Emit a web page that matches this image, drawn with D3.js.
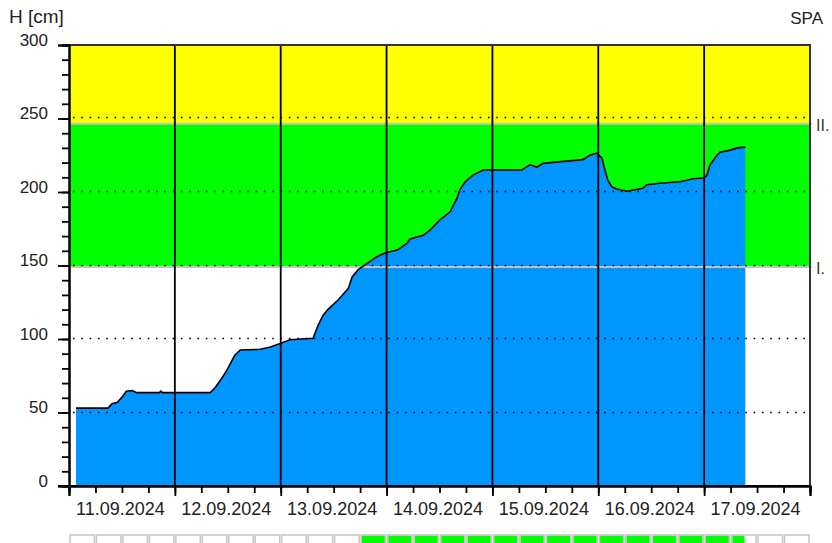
<!DOCTYPE html>
<html>
<head>
<meta charset="utf-8">
<script src="https://cdn.jsdelivr.net/npm/d3@7"></script>
<style>
  html, body { margin: 0; padding: 0; background: #fff; }
  svg { display: block; font-family: "Liberation Sans", Arial, sans-serif; }
</style>
</head>
<body>
<svg id="chart" width="832" height="543"></svg>
<script>
// Water level H [cm], station SPA
const times = [
  "2024-09-11T01:35", "2024-09-11T08:50", "2024-09-11T09:45", "2024-09-11T11:00",
  "2024-09-11T12:10", "2024-09-11T13:00", "2024-09-11T14:20", "2024-09-11T15:20",
  "2024-09-11T20:30", "2024-09-11T20:50", "2024-09-11T21:10", "2024-09-12T08:00",
  "2024-09-12T09:10", "2024-09-12T10:40", "2024-09-12T11:50", "2024-09-12T13:35",
  "2024-09-12T14:50", "2024-09-12T19:20", "2024-09-12T21:40", "2024-09-13T00:20",
  "2024-09-13T02:05", "2024-09-13T07:20", "2024-09-13T08:30", "2024-09-13T09:35",
  "2024-09-13T10:40", "2024-09-13T13:00", "2024-09-13T15:20", "2024-09-13T16:10",
  "2024-09-13T17:30", "2024-09-13T19:35", "2024-09-13T21:50", "2024-09-13T23:35",
  "2024-09-14T02:25", "2024-09-14T04:35", "2024-09-14T05:20", "2024-09-14T08:20",
  "2024-09-14T09:50", "2024-09-14T12:05", "2024-09-14T14:25", "2024-09-14T16:00",
  "2024-09-14T16:35", "2024-09-14T17:50", "2024-09-14T19:35", "2024-09-14T21:55",
  "2024-09-15T06:40", "2024-09-15T08:30", "2024-09-15T10:05", "2024-09-15T11:30",
  "2024-09-15T14:55", "2024-09-15T20:30", "2024-09-15T22:05", "2024-09-15T23:40",
  "2024-09-16T00:50", "2024-09-16T01:30", "2024-09-16T02:10", "2024-09-16T03:05",
  "2024-09-16T04:10", "2024-09-16T06:30", "2024-09-16T10:05", "2024-09-16T11:00",
  "2024-09-16T14:00", "2024-09-16T18:30", "2024-09-16T21:30", "2024-09-16T23:40",
  "2024-09-17T00:35", "2024-09-17T01:20", "2024-09-17T02:55", "2024-09-17T03:35",
  "2024-09-17T05:55", "2024-09-17T07:30", "2024-09-17T09:20"
];
const levels = [
  53, 53, 56, 57,
  61, 64.5, 65, 63.5,
  63.5, 64.5, 63.5, 63.5,
  67, 73.5, 79, 89,
  92.5, 93, 94.5, 97.5,
  99.5, 100.5, 109.5, 116,
  120, 126.5, 134.5, 142,
  147, 151.5, 156, 158.5,
  160.5, 165, 168, 170.5,
  174, 181, 186.5, 196,
  201.5, 207, 211.5, 215,
  215, 218.5, 217, 219.5,
  220.5, 222, 225, 226.5,
  223, 215, 208, 203.5,
  202, 200.5, 202.5, 205,
  206, 207, 209, 209.5,
  211, 218.5, 225, 227,
  228.5, 230, 230.5
];

// Axis ticks and labels
const dayStarts = ["2024-09-11", "2024-09-12", "2024-09-13", "2024-09-14",
                   "2024-09-15", "2024-09-16", "2024-09-17", "2024-09-18"];
const dayLabels = ["11.09.2024", "12.09.2024", "13.09.2024", "14.09.2024",
                   "15.09.2024", "16.09.2024", "17.09.2024"];
const yMajorTicks = [0, 50, 100, 150, 200, 250, 300];
const gridLevels = [50, 100, 150, 200, 250];

// Flood warning levels
const thresholdValues = [149, 246.5];
const thresholdLabels = ["I.", "II."];
const bandColors = ["#00ff00", "#ffff00"];

// Status strip: periods marked green
const flagStart = ["2024-09-13T18:00"];
const flagEnd = ["2024-09-17T09:20"];

const parseT = d3.timeParse("%Y-%m-%dT%H:%M");
const parseD = d3.timeParse("%Y-%m-%d");
const data = times.map((t, i) => ({ t: parseT(t), v: levels[i] }));
const days = dayStarts.map(parseD);

const svg = d3.select("#chart");
const L = 69, R = 810, T = 45, B = 486;

const x = d3.scaleTime().domain([days[0], days[days.length - 1]]).range([L, R]);
const y = d3.scaleLinear().domain([0, 300]).range([B, T]);

// Coloured bands between warning levels
const bandBounds = [thresholdValues[0], thresholdValues[1], 300];
bandColors.forEach((c, i) => {
  svg.append("rect")
    .attr("x", L).attr("width", R - L)
    .attr("y", y(bandBounds[i + 1]))
    .attr("height", y(bandBounds[i]) - y(bandBounds[i + 1]))
    .attr("fill", c);
});

// Water level area and outline
const area = d3.area().x(d => x(d.t)).y0(y(0)).y1(d => y(d.v));
const line = d3.line().x(d => x(d.t)).y(d => y(d.v));
svg.append("path").datum(data).attr("d", area).attr("fill", "#0096ff");

// Warning level lines
thresholdValues.forEach((v, i) => {
  svg.append("line")
    .attr("x1", L).attr("x2", R + 2)
    .attr("y1", y(v)).attr("y2", y(v))
    .attr("stroke", "#c4c4c4").attr("stroke-width", 2);
  svg.append("text")
    .attr("x", 816).attr("y", y(v) + 7)
    .attr("font-size", 16).attr("fill", "#333")
    .text(thresholdLabels[i]);
});

svg.append("path").datum(data).attr("d", line)
  .attr("fill", "none").attr("stroke", "#000").attr("stroke-width", 1.6);

// Dotted horizontal grid
gridLevels.forEach(v => {
  svg.append("line")
    .attr("x1", L + 4).attr("x2", R)
    .attr("y1", Math.round(y(v)) - 0.5).attr("y2", Math.round(y(v)) - 0.5)
    .attr("stroke", "#000").attr("stroke-width", 1.6)
    .attr("stroke-dasharray", "1.6,6.7");
});

// Day separators
days.slice(1, -1).forEach(d => {
  svg.append("line")
    .attr("x1", x(d)).attr("x2", x(d))
    .attr("y1", T).attr("y2", B)
    .attr("stroke", "#000").attr("stroke-width", 1.8);
});

// Frame
svg.append("path")
  .attr("d", `M${L},${T}H${R}V${B}`)
  .attr("fill", "none").attr("stroke", "#333").attr("stroke-width", 2);

// Y axis: minor ticks every 10, major ticks with labels every 50
const yMinor = svg.append("g").attr("transform", `translate(${L},0)`)
  .call(d3.axisLeft(y).tickValues(d3.range(0, 301, 10)).tickSize(7).tickFormat(""));
const yMajor = svg.append("g").attr("transform", `translate(${L},0)`)
  .call(d3.axisLeft(y).tickValues(yMajorTicks).tickSize(11).tickPadding(10));
[yMinor, yMajor].forEach(g => {
  g.select(".domain").attr("stroke", "#000").attr("stroke-width", 2);
  g.selectAll(".tick line").attr("stroke", "#000").attr("stroke-width", 1.8);
});
yMajor.selectAll(".tick text")
  .attr("dy", "0").attr("font-size", 17).attr("fill", "#222")
  .attr("font-family", "Liberation Sans, Arial, sans-serif");

// X axis: 6-hour ticks and day ticks
const xMinor = svg.append("g").attr("transform", `translate(0,${B})`)
  .call(d3.axisBottom(x).ticks(d3.timeHour.every(6)).tickSize(7).tickFormat(""));
const xMajor = svg.append("g").attr("transform", `translate(0,${B})`)
  .call(d3.axisBottom(x).tickValues(days).tickSize(10).tickFormat(""));
[xMinor, xMajor].forEach(g => {
  g.select(".domain").attr("stroke", "#000").attr("stroke-width", 2);
  g.selectAll(".tick line").attr("stroke", "#000").attr("stroke-width", 1.8);
});
// extend baseline to the left under the zero tick
svg.append("line").attr("x1", L - 11).attr("x2", R)
  .attr("y1", B).attr("y2", B).attr("stroke", "#000").attr("stroke-width", 2);

// Day labels centred in each day
const noon = days.slice(0, -1).map(d => d3.timeHour.offset(d, 12));
const xLabels = svg.append("g").attr("transform", `translate(-2,${B})`)
  .call(d3.axisBottom(x).tickValues(noon).tickSize(0)
    .tickFormat((d, i) => dayLabels[i]));
xLabels.select(".domain").remove();
xLabels.selectAll(".tick text")
  .attr("y", 29).attr("dy", "0").attr("font-size", 18).attr("fill", "#222")
  .attr("font-family", "Liberation Sans, Arial, sans-serif");

// Titles
svg.append("text").attr("x", 9).attr("y", 23)
  .attr("font-size", 19).attr("fill", "#222").text("H [cm]");
svg.append("text").attr("x", 823).attr("y", 24).attr("text-anchor", "end")
  .attr("font-size", 17).attr("fill", "#222").text("SPA");

// Status strip of 6-hour cells
const cells = d3.timeHour.every(6).range(days[0], days[days.length - 1]);
const flags = flagStart.map((s, i) => [parseT(s), parseT(flagEnd[i])]);
const strip = svg.append("g");
cells.forEach(c => {
  const c1 = d3.timeHour.offset(c, 6);
  const x0 = x(c) + 1, x1 = x(c1) - 1;
  strip.append("rect")
    .attr("x", x0).attr("y", 535).attr("width", x1 - x0).attr("height", 12)
    .attr("fill", "#fff").attr("stroke", "#c8c8c8").attr("stroke-width", 1.6);
  flags.forEach(([f0, f1]) => {
    const a = Math.max(x0, x(f0) + 1), b = Math.min(x1, x(f1));
    if (b > a) {
      strip.append("rect")
        .attr("x", a + 0.8).attr("y", 535.8).attr("width", b - a - 1.6).attr("height", 12)
        .attr("fill", "#00ff00");
    }
  });
});
</script>
</body>
</html>
